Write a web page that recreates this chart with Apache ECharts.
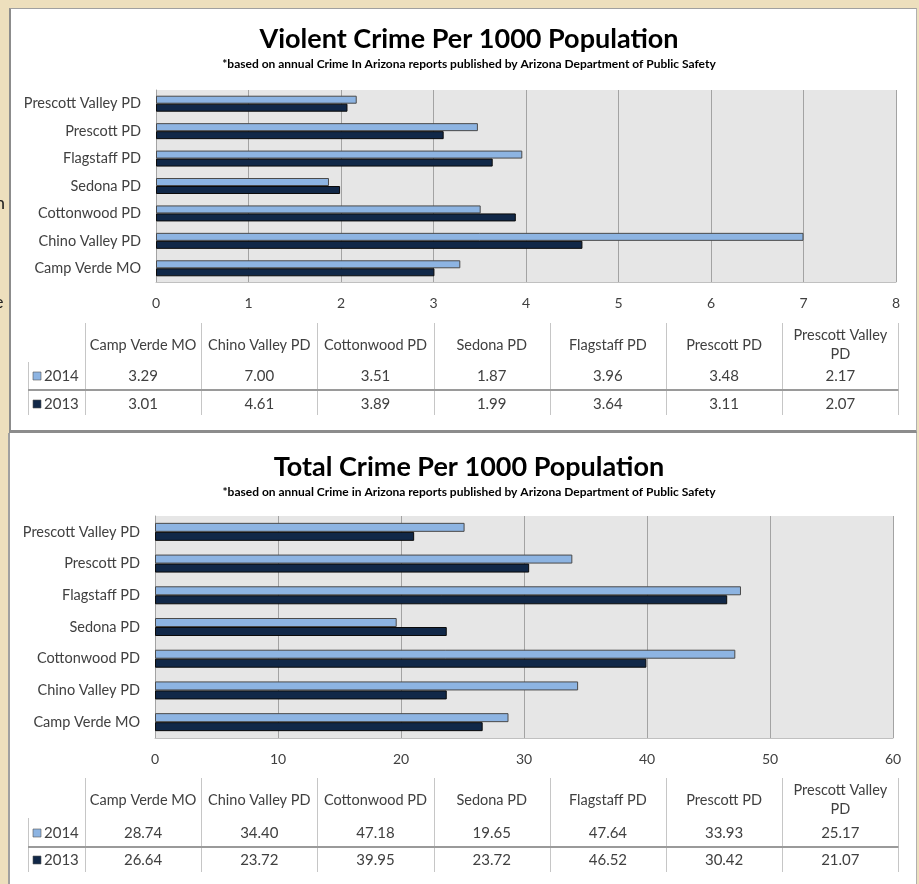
<!DOCTYPE html>
<html>
<head>
<meta charset="utf-8">
<script src="https://cdn.jsdelivr.net/npm/echarts@6/dist/echarts.min.js"></script>
<style>
html,body{margin:0;padding:0;background:#EDDFBD;overflow:hidden;}
.panel{position:absolute;background:#fff;box-sizing:border-box;}
#p1{left:9px;top:8px;width:908px;height:425px;border-left:2px solid #8c8c8c;border-top:1px solid #a0a0a0;border-right:1px solid #b0b0b0;border-bottom:3px solid #8c8c8c;}
#p2{left:8px;top:433px;width:909px;height:460px;border-left:2px solid #a0a0a0;border-right:1px solid #b0b0b0;}
#main{position:absolute;left:0;top:0;width:919px;height:884px;}
</style>
</head>
<body>
<div class="panel" id="p1"></div>
<div class="panel" id="p2"></div>
<div id="main"></div>
<script>
// data (same order as the data tables, bottom-to-top on the chart)
var categories = ['Camp Verde MO','Chino Valley PD','Cottonwood PD','Sedona PD','Flagstaff PD','Prescott PD','Prescott Valley PD'];
var years = ['2014','2013'];
var violent2014 = [3.29, 7.00, 3.51, 1.87, 3.96, 3.48, 2.17];
var violent2013 = [3.01, 4.61, 3.89, 1.99, 3.64, 3.11, 2.07];
var total2014 = [28.74, 34.40, 47.18, 19.65, 47.64, 33.93, 25.17];
var total2013 = [26.64, 23.72, 39.95, 23.72, 46.52, 30.42, 21.07];
var violentAxis = {min: 0, max: 8, interval: 1};
var totalAxis = {min: 0, max: 60, interval: 10};

var FONT = "Lato, 'Noto Sans', sans-serif";
var c2014 = '#8DB4E2';
var c2013 = '#112848';
var txt = '#404040';

var chart = echarts.init(document.getElementById('main'));

// data table drawn under each chart
var colX0 = 85, colW = 116.2;
function tableElements(t, v14, v13) {
    var els = [];
    var n = categories.length;
    var right = colX0 + n * colW;
    for (var i = 0; i <= n; i++) {
        var x = Math.round(colX0 + i * colW) + 0.5;
        els.push({type:'line', shape:{x1:x, y1:t.lineTop, x2:x, y2:t.lineBottom},
                  style:{stroke:'#c6c6c6', lineWidth:1}});
    }
    els.push({type:'line', shape:{x1:28.5, y1:t.rowTop, x2:28.5, y2:t.lineBottom},
              style:{stroke:'#c6c6c6', lineWidth:1}});
    els.push({type:'line', shape:{x1:28, y1:t.sep, x2:right, y2:t.sep},
              style:{stroke:'#9a9a9a', lineWidth:2}});
    for (var j = 0; j < n; j++) {
        var cx = colX0 + (j + 0.5) * colW;
        var name = categories[j];
        if (name.length > 16) name = name.replace(/ (\S+)$/, '\n$1');
        els.push({type:'text', x:cx, y:t.head,
                  style:{text:name, fill:txt, font:'14.5px ' + FONT, lineHeight:19,
                         align:'center', verticalAlign:'middle', textAlign:'center', textVerticalAlign:'middle'}});
        els.push({type:'text', x:cx, y:t.r1,
                  style:{text:v14[j].toFixed(2), fill:txt, font:'15px ' + FONT,
                         align:'center', verticalAlign:'middle', textAlign:'center', textVerticalAlign:'middle'}});
        els.push({type:'text', x:cx, y:t.r2,
                  style:{text:v13[j].toFixed(2), fill:txt, font:'15px ' + FONT,
                         align:'center', verticalAlign:'middle', textAlign:'center', textVerticalAlign:'middle'}});
    }
    [[t.r1, c2014, years[0]], [t.r2, c2013, years[1]]].forEach(function (r) {
        els.push({type:'rect', shape:{x:33, y:r[0] - 4, width:8, height:8},
                  style:{fill:r[1], stroke:'#555', lineWidth:0.6}});
        els.push({type:'text', x:44, y:r[0],
                  style:{text:r[2], fill:txt, font:'15px ' + FONT,
                         align:'left', verticalAlign:'middle', textAlign:'left', textVerticalAlign:'middle'}});
    });
    return els;
}

var graphics = []
    .concat(tableElements({head:345, r1:376, r2:404, sep:390, lineTop:323, rowTop:362, lineBottom:415}, violent2014, violent2013))
    .concat(tableElements({head:800, r1:833, r2:860, sep:847, lineTop:778, rowTop:818, lineBottom:872}, total2014, total2013));
// cut-off letters on the left edge
graphics.push({type:'text', x:-5, y:203, style:{text:'n', fill:'#222', font:'18px ' + FONT, verticalAlign:'middle', textVerticalAlign:'middle'}});
graphics.push({type:'text', x:-6, y:302, style:{text:'e', fill:'#222', font:'18px ' + FONT, verticalAlign:'middle', textVerticalAlign:'middle'}});

function valueAxis(idx, ax) {
    return {
        type:'value', gridIndex:idx, min:ax.min, max:ax.max, interval:ax.interval,
        axisLine:{show:true, lineStyle:{color:'#c0c0c0'}},
        axisTick:{show:false},
        splitLine:{show:true, lineStyle:{color:'#a3a3a3', width:1}},
        axisLabel:{color:txt, fontSize:14, fontFamily:FONT, margin:14}
    };
}
function catAxis(idx) {
    return {
        type:'category', gridIndex:idx, data:categories,
        axisLine:{show:true, lineStyle:{color:'#a3a3a3'}},
        axisTick:{show:false},
        axisLabel:{color:txt, fontSize:14.5, fontFamily:FONT, margin:15}
    };
}
function barSeries(idx, name, data, color, border, w) {
    return {
        type:'bar', name:name, xAxisIndex:idx, yAxisIndex:idx, data:data,
        barWidth:w, barGap:'0%',
        itemStyle:{color:color, borderColor:border, borderWidth:1},
        animation:false
    };
}

chart.setOption({
    title: [{
        text:'Violent Crime Per 1000 Population',
        subtext:'*based on annual Crime In Arizona reports published by Arizona Department of Public Safety',
        left:464, top:21, textAlign:'center', itemGap:5,
        textStyle:{fontSize:27, fontWeight:'bold', color:'#000', fontFamily:FONT},
        subtextStyle:{fontSize:12, fontWeight:'bold', color:'#000', fontFamily:FONT}
    }, {
        text:'Total Crime Per 1000 Population',
        subtext:'*based on annual Crime in Arizona reports published by Arizona Department of Public Safety',
        left:464, top:449, textAlign:'center', itemGap:5,
        textStyle:{fontSize:27, fontWeight:'bold', color:'#000', fontFamily:FONT},
        subtextStyle:{fontSize:12, fontWeight:'bold', color:'#000', fontFamily:FONT}
    }],
    grid: [
        {left:156, right:23, top:90, height:192, show:true, backgroundColor:'#E6E6E6', borderWidth:0},
        {left:155, right:26, top:516, height:222, show:true, backgroundColor:'#E6E6E6', borderWidth:0}
    ],
    xAxis: [valueAxis(0, violentAxis), valueAxis(1, totalAxis)],
    yAxis: [catAxis(0), catAxis(1)],
    series: [
        barSeries(0, years[0], violent2014, c2014, '#4a4a4a', 8),
        barSeries(0, years[1], violent2013, c2013, '#0a0a0a', 8),
        barSeries(1, years[0], total2014, c2014, '#4a4a4a', 9),
        barSeries(1, years[1], total2013, c2013, '#0a0a0a', 9)
    ],
    graphic: {elements: graphics}
});
</script>
</body>
</html>
